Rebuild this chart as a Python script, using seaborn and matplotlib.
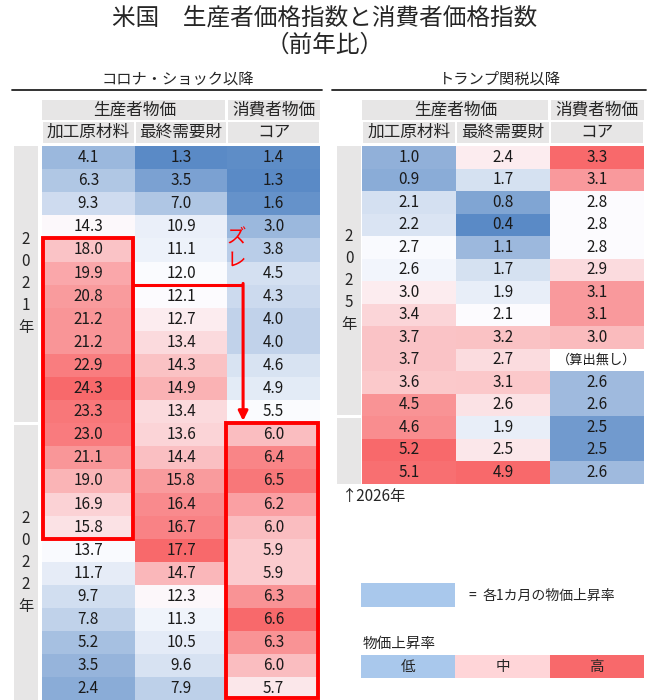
import numpy as np
import pandas as pd
import seaborn as sns
import matplotlib.pyplot as plt
from matplotlib.colors import LinearSegmentedColormap
from matplotlib.patches import Rectangle

sns.set_style('white')
plt.rcParams['font.family'] = ['Noto Sans CJK JP', 'DejaVu Sans']

# コロナ・ショック以降 (2021年1月〜2022年12月)
covid_years = ['2021年'] * 12 + ['2022年'] * 12
covid_raw = [4.1, 6.3, 9.3, 14.3, 18.0, 19.9, 20.8, 21.2, 21.2, 22.9, 24.3, 23.3,
             23.0, 21.1, 19.0, 16.9, 15.8, 13.7, 11.7, 9.7, 7.8, 5.2, 3.5, 2.4]
covid_final = [1.3, 3.5, 7.0, 10.9, 11.1, 12.0, 12.1, 12.7, 13.4, 14.3, 14.9, 13.4,
               13.6, 14.4, 15.8, 16.4, 16.7, 17.7, 14.7, 12.3, 11.3, 10.5, 9.6, 7.9]
covid_core = [1.4, 1.3, 1.6, 3.0, 3.8, 4.5, 4.3, 4.0, 4.0, 4.6, 4.9, 5.5,
              6.0, 6.4, 6.5, 6.2, 6.0, 5.9, 5.9, 6.3, 6.6, 6.3, 6.0, 5.7]

# トランプ関税以降 (2025年1月〜2026年3月)
tariff_years = ['2025年'] * 12 + ['2026年'] * 3
tariff_raw = [1.0, 0.9, 2.1, 2.2, 2.7, 2.6, 3.0, 3.4, 3.7, 3.7, 3.6, 4.5, 4.6, 5.2, 5.1]
tariff_final = [2.4, 1.7, 0.8, 0.4, 1.1, 1.7, 1.9, 2.1, 3.2, 2.7, 3.1, 2.6, 1.9, 2.5, 4.9]
tariff_core = [3.3, 3.1, 2.8, 2.8, 2.8, 2.9, 3.1, 3.1, 3.0, np.nan, 2.6, 2.6, 2.5, 2.5, 2.6]

col_names = ['加工原材料', '最終需要財', 'コア']

# Excelの3色スケール（低, 中, 高）列ごと
covid_scale = [(-2.6, 14.0, 24.3), (1.3, 12.1, 17.7), (1.3, 5.55, 6.6)]
tariff_scale = [(0.1, 2.75, 5.2), (0.4, 2.1, 4.9), (2.45, 2.8, 3.25)]

cmap = LinearSegmentedColormap.from_list('excel3', ['#5A8AC6', '#FCFCFF', '#F8696B'])
GREY = '#E7E6E6'
FS_CELL = 11

W, H = 654, 700
fig = plt.figure(figsize=(W / 100, H / 100), dpi=100)
bg = fig.add_axes([0, 0, 1, 1])
bg.set_xlim(0, W)
bg.set_ylim(H, 0)
bg.axis('off')


def px_axes(x0, y0, x1, y1):
    return fig.add_axes([x0 / W, 1 - y1 / H, (x1 - x0) / W, (y1 - y0) / H])


def scale_col(vals, lo, mid, hi):
    v = np.asarray(vals, dtype=float)
    t = np.where(v <= mid, 0.5 * (v - lo) / (mid - lo), 0.5 + 0.5 * (v - mid) / (hi - mid))
    return np.clip(t, 0, 1)


def draw_table(cols, scales, years, x0, x1, y0, row_h, title, year_x):
    df = pd.DataFrame(dict(zip(col_names, cols)))
    norm = pd.DataFrame({c: scale_col(df[c], *s) for c, s in zip(col_names, scales)})
    n = len(df)
    y1 = y0 + n * row_h
    ax = px_axes(x0, y0, x1, y1)
    ax.set_facecolor('white')
    sns.heatmap(norm, ax=ax, cmap=cmap, vmin=0, vmax=1, annot=df.values, fmt='.1f',
                annot_kws={'fontsize': FS_CELL, 'color': '#1a1a1a'},
                cbar=False, xticklabels=False, yticklabels=False)
    ax.set_xlabel('')
    ax.set_ylabel('')
    cw = (x1 - x0) / 3

    # 見出し
    bg.text((x0 + x1) / 2 - 3, 79, title, fontsize=11, ha='center', va='center')
    bg.plot([x0 - 30, x1 + 2], [90, 90], color='#222222', lw=1.3)
    bg.add_patch(Rectangle((x0, 100), 2 * cw - 2, 20, color=GREY, lw=0))
    bg.text(x0 + cw, 110, '生産者物価', fontsize=12, ha='center', va='center')
    bg.add_patch(Rectangle((x0 + 2 * cw + 1, 100), cw - 1, 20, color=GREY, lw=0))
    bg.text(x0 + 2.5 * cw, 110, '消費者物価', fontsize=12, ha='center', va='center')
    for i, c in enumerate(col_names):
        bg.add_patch(Rectangle((x0 + i * cw + 1, 122), cw - 2, 20.5, color=GREY, lw=0))
        bg.text(x0 + (i + 0.5) * cw, 132, c, fontsize=12, ha='center', va='center')

    # 年の帯
    ys = pd.Series(years)
    for yr, idx in ys.groupby(ys, sort=False).groups.items():
        top = y0 + idx.min() * row_h + (1.5 if idx.min() > 0 else 0)
        bot = y0 + (idx.max() + 1) * row_h - (1.5 if idx.max() < n - 1 else 0)
        bg.add_patch(Rectangle((year_x, top), 24, bot - top, color=GREY, lw=0))
        if len(idx) >= 6:
            bg.text(year_x + 12, (top + bot) / 2, '\n'.join(yr), fontsize=11,
                    ha='center', va='center', linespacing=1.38)
    return ax, df, y1


# 左表
axL, dfL, _ = draw_table([covid_raw, covid_final, covid_core], covid_scale, covid_years,
                         42, 320, 146, 23.1, 'コロナ・ショック以降', 14)
# 右表
axR, dfR, yR = draw_table([tariff_raw, tariff_final, tariff_core], tariff_scale, tariff_years,
                          362, 644, 146, 22.5, 'トランプ関税以降', 337)

# 算出無し
for r, c in zip(*np.where(dfR.isna().values)):
    axR.text(c + 0.5, r + 0.5, '（算出無し）', fontsize=9.5, ha='center', va='center', color='#1a1a1a')

bg.text(342, 497, '↑2026年', fontsize=11, ha='left', va='center')

# 赤枠・矢印（左表）
red = '#FF0000'
axL.add_patch(Rectangle((0.01, 4), 0.97, 13, fill=False, ec=red, lw=2.8, clip_on=False, zorder=5))
axL.add_patch(Rectangle((1.99, 12), 0.99, 11.9, fill=False, ec=red, lw=2.8, clip_on=False, zorder=5))
axL.plot([0.98, 2.17], [6, 6], color=red, lw=2.2, clip_on=False, zorder=5, solid_capstyle='butt')
axL.annotate('', xy=(2.17, 11.9), xytext=(2.17, 5.95),
             arrowprops=dict(arrowstyle='-|>', color=red, lw=2.2, mutation_scale=14,
                             shrinkA=0, shrinkB=0), zorder=5)
axL.text(2.1, 4.45, 'ズ\nレ', color=red, fontsize=14, ha='center', va='center',
         linespacing=1.05, zorder=6)

# タイトル
bg.text(325, 18, '米国　生産者価格指数と消費者価格指数', fontsize=17, ha='center', va='center')
bg.text(325, 45, '（前年比）', fontsize=17, ha='center', va='center')

# 凡例
bg.add_patch(Rectangle((361, 583), 94, 24, color='#A9C8EC', lw=0))
bg.text(468, 596, '=', fontsize=10, ha='left', va='center')
bg.text(483, 596, '各1カ月の物価上昇率', fontsize=10, ha='left', va='center')
bg.text(363, 644, '物価上昇率', fontsize=10.5, ha='left', va='center')
for i, (lab, colr) in enumerate(zip(['低', '中', '高'], ['#A9C8EC', '#FFD5D8', '#F8696B'])):
    bg.add_patch(Rectangle((361 + i * 94.3, 655), 94.3, 23, color=colr, lw=0))
    bg.text(361 + (i + 0.5) * 94.3, 667, lab, fontsize=10.5, ha='center', va='center')

fig.savefig('out.png', dpi=100)
